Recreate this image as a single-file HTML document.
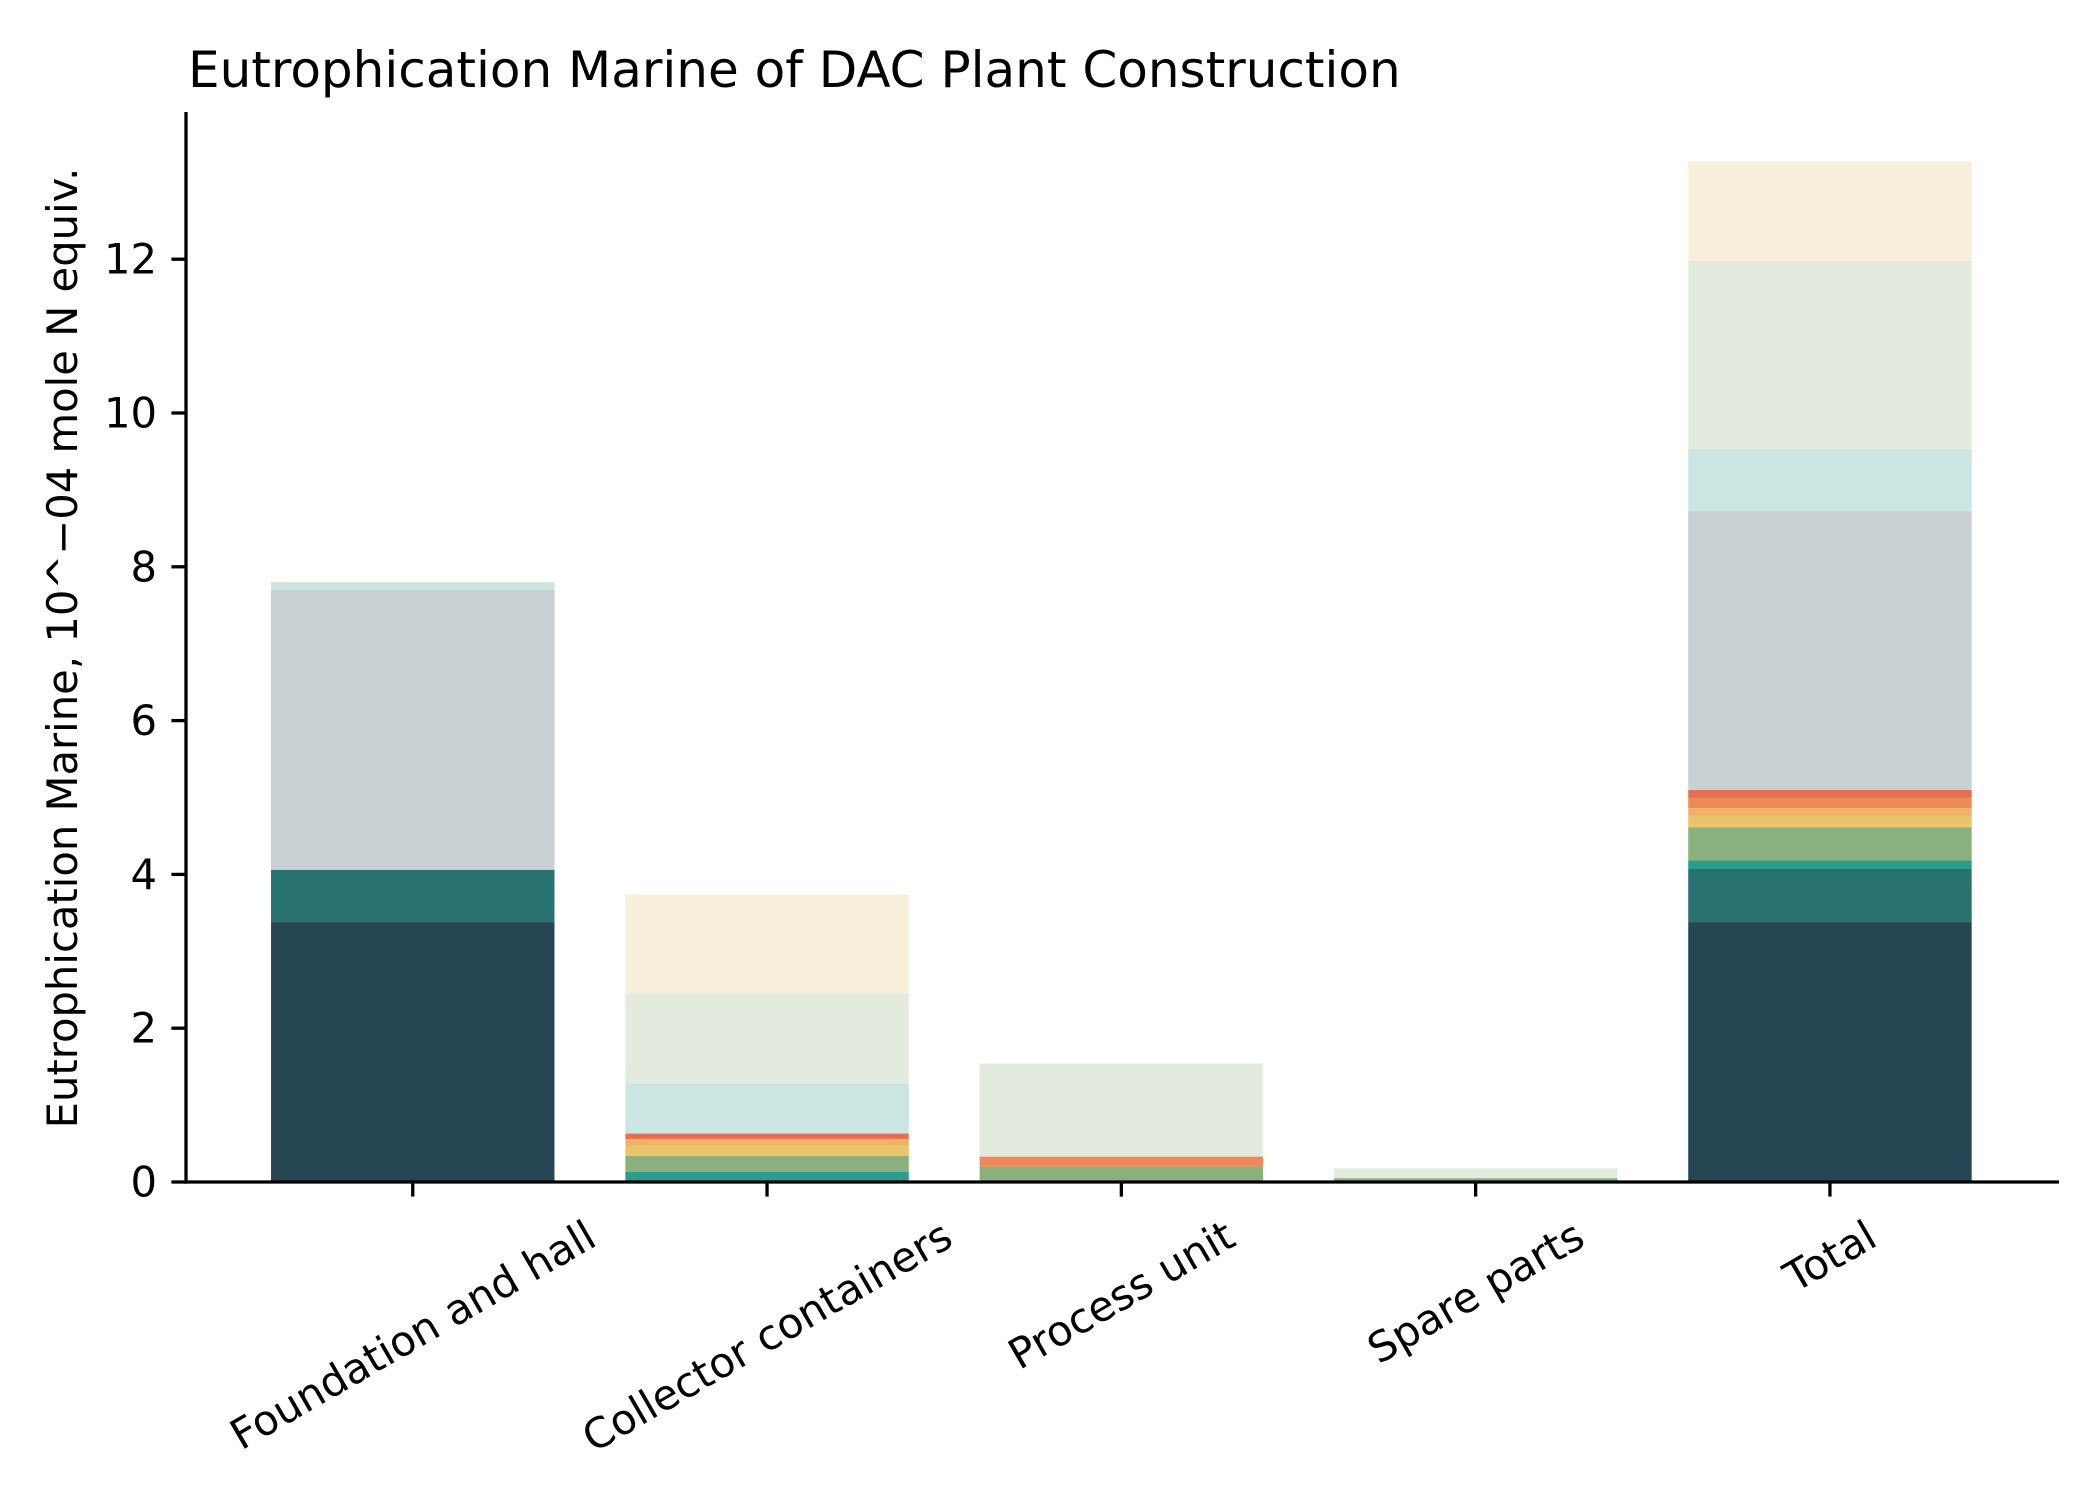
<!DOCTYPE html>
<html><head><meta charset="utf-8"><style>
html,body{margin:0;padding:0;background:#fff;}
svg{display:block;font-family:"DejaVu Sans","Liberation Sans",sans-serif;}
</style></head><body>
<svg id="chart" width="2100" height="1500" viewBox="0 0 2100 1500" xmlns="http://www.w3.org/2000/svg">
<text x="188" y="87" font-size="50" fill="#000">Eutrophication Marine of DAC Plant Construction</text>
<g id="bars"></g>
<g id="axes"></g>
<text transform="translate(77,648) rotate(-90)" text-anchor="middle" font-size="41.7" fill="#000">Eutrophication Marine, 10^−04 mole N equiv.</text>
</svg>
<script>
const categories = ["Foundation and hall","Collector containers","Process unit","Spare parts","Total"];
const seriesColors = ["#264653","#287271","#2a9d8f","#8ab17d","#e9c46a","#efb366","#ee8959","#e76f51","#c8d0d4","#cbe5e2","#e3eade","#f8efda"];
const s1 = [3.38,0,0,0,3.38];
const s2 = [0.68,0,0,0,0.69];
const s3 = [0,0.13,0,0,0.11];
const s4 = [0,0.21,0.20,0.05,0.43];
const s5 = [0,0.13,0,0,0.15];
const s6 = [0,0.09,0,0,0.10];
const s7 = [0,0,0.13,0,0.14];
const s8 = [0,0.07,0,0,0.10];
const s9 = [3.64,0,0,0,3.62];
const s10 = [0.10,0.65,0,0,0.81];
const s11 = [0,1.17,1.21,0.13,2.45];
const s12 = [0,1.29,0,0,1.29];
const yTicks = [0,2,4,6,8,10,12];

const series = [s1,s2,s3,s4,s5,s6,s7,s8,s9,s10,s11,s12];
const NS="http://www.w3.org/2000/svg";
const axL=186, axR=2059, axTop=112, y0=1182, pxPerUnit=76.9, step=354.3, barW=0.8*step;
function xPos(i){return axL+(i+0.64)*step;}
function yPos(v){return y0-v*pxPerUnit;}
const bars=document.getElementById('bars'), axes=document.getElementById('axes');
function mk(tag,attrs,parent){const e=document.createElementNS(NS,tag);for(const k in attrs)e.setAttribute(k,attrs[k]);parent.appendChild(e);return e;}
categories.forEach((c,i)=>{
  let base=0;
  series.forEach((s,k)=>{
    const v=s[i]; if(!v){return;}
    const r=mk('rect',{x:xPos(i)-barW/2,y:yPos(base+v),width:barW,height:v*pxPerUnit,fill:seriesColors[k]},bars);
    
    
    base+=v;
  });
});
const ls=mk('line',{x1:axL,y1:axTop,x2:axL,y2:y0+1.6,stroke:'#000','stroke-width':3.3},axes);


const bs=mk('line',{x1:axL-1.6,y1:y0,x2:axR,y2:y0,stroke:'#000','stroke-width':3.3},axes);


yTicks.forEach(t=>{
  const y=yPos(t);
  const tk=mk('line',{x1:axL-14.6,y1:y,x2:axL,y2:y,stroke:'#000','stroke-width':3.3},axes);
  
  
  const tx=mk('text',{x:axL-29,y:y,'text-anchor':'end','dominant-baseline':'central','font-size':41.7,fill:'#000'},axes);
  tx.textContent=String(t);
  
  
});
categories.forEach((c,i)=>{
  const x=xPos(i);
  const tk=mk('line',{x1:x,y1:y0,x2:x,y2:y0+14.6,stroke:'#000','stroke-width':3.3},axes);
  
  
  const tx=mk('text',{x:0,y:0,'text-anchor':'middle','dominant-baseline':'central','font-size':41.7,fill:'#000'},axes);
  tx.textContent=c;
  
  
  const w=tx.getComputedTextLength(), h=48;
  const bh=w*0.5+h*0.866;
  const cy=y0+29+bh/2;
  tx.setAttribute('transform','translate('+x+','+cy+') rotate(-30)');
});
</script>
</body></html>
